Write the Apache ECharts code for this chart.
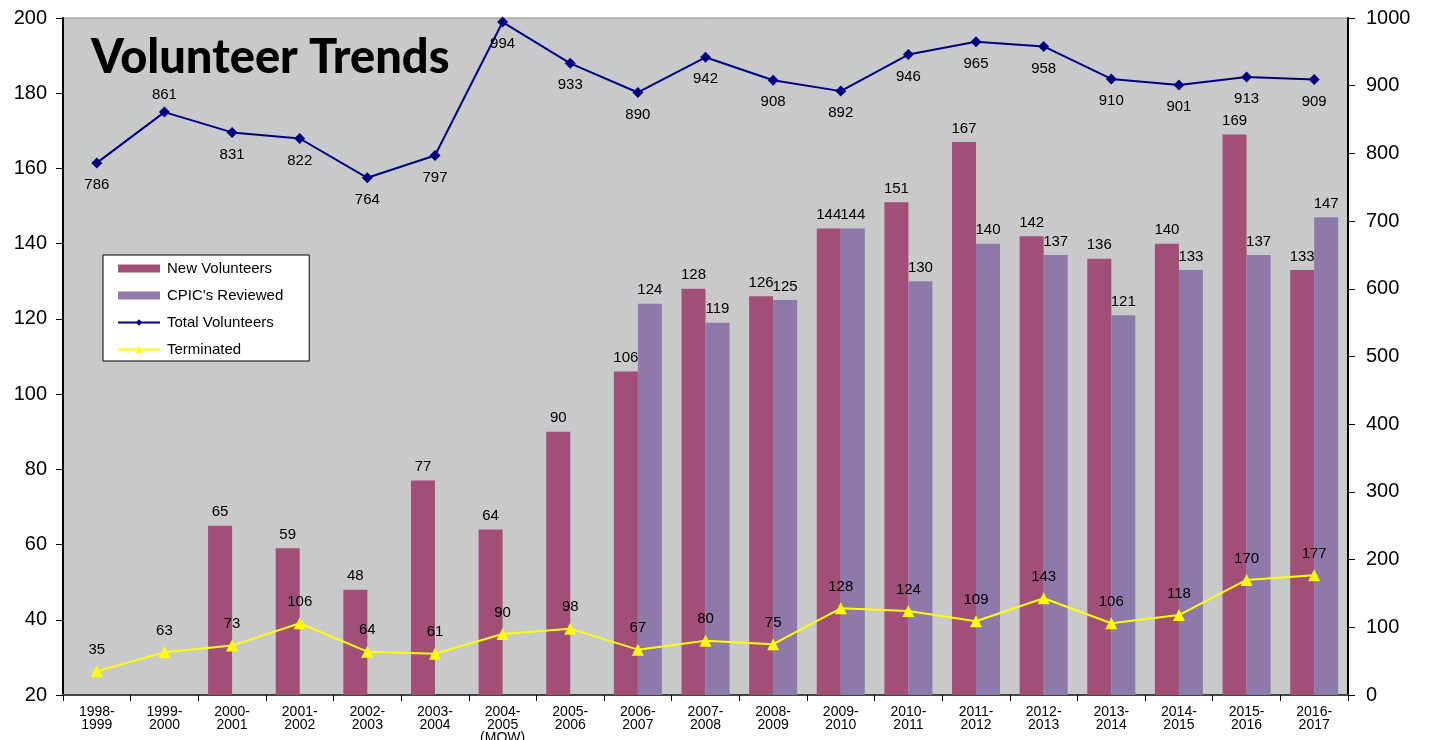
<!DOCTYPE html>
<html>
<head>
<meta charset="utf-8">
<script src="https://cdn.jsdelivr.net/npm/echarts@6/dist/echarts.min.js"></script>
<style>
html,body{margin:0;padding:0;background:#fff;}
#c{width:1432px;height:740px;}
</style>
</head>
<body>
<div id="c"></div>
<script>
const categories = ['1998-\n1999','1999-\n2000','2000-\n2001','2001-\n2002','2002-\n2003','2003-\n2004','2004-\n2005\n(MOW)','2005-\n2006','2006-\n2007','2007-\n2008','2008-\n2009','2009-\n2010','2010-\n2011','2011-\n2012','2012-\n2013','2013-\n2014','2014-\n2015','2015-\n2016','2016-\n2017'];
const newVolunteers = [null,null,65,59,48,77,64,90,106,128,126,144,151,167,142,136,140,169,133];
const cpicReviewed = [null,null,null,null,null,null,null,null,124,119,125,144,130,140,137,121,133,137,147];
const totalVolunteers = [786,861,831,822,764,797,994,933,890,942,908,892,946,965,958,910,901,913,909];
const terminated = [35,63,73,106,64,61,90,98,67,80,75,128,124,109,143,106,118,170,177];
const leftTicks = {min:20,max:200,interval:20};
const rightTicks = {min:0,max:1000,interval:100};

const FONT = '"Liberation Sans", Arial, sans-serif';
const chart = echarts.init(document.getElementById('c'));

const totalData = totalVolunteers.map((v,i)=> i===1 ? {value:v,label:{position:'top',distance:4}} : v);

chart.setOption({
  animation:false,
  title:{
    text:'Volunteer Trends',
    left:86, top:29,
    textStyle:{fontFamily:'Lato, sans-serif',fontWeight:900,fontSize:47,color:'#000'}
  },
  legend:{
    orient:'vertical',
    left:103, top:255,
    backgroundColor:'#fff',
    borderColor:'#000', borderWidth:1,
    padding:[6,26,4,14],
    itemWidth:42, itemHeight:8, itemGap:12,
    textStyle:{fontFamily:FONT,fontSize:15,color:'#000',padding:[0,0,0,2]},
    data:[
      {name:'New Volunteers',icon:'rect'},
      {name:"CPIC's Reviewed",icon:'rect'},
      {name:'Total Volunteers'},
      {name:'Terminated'}
    ]
  },
  grid:{
    left:63, right:84, top:18, bottom:45,
    outerBoundsMode:'none', containLabel:false,
    show:true, backgroundColor:'#C8C9CB', borderColor:'#8a8a8a', borderWidth:1
  },
  xAxis:{
    type:'category',
    data:categories,
    axisLine:{lineStyle:{color:'#444',width:2}},
    axisTick:{show:true,length:6,lineStyle:{color:'#000'}},
    axisLabel:{interval:0,fontFamily:FONT,fontSize:14,color:'#000',lineHeight:13,margin:11}
  },
  yAxis:[
    {
      type:'value', min:leftTicks.min, max:leftTicks.max, interval:leftTicks.interval,
      splitLine:{show:false},
      axisLine:{show:true,lineStyle:{color:'#000',width:2}},
      axisTick:{show:true,length:7,lineStyle:{color:'#000'}},
      axisLabel:{fontFamily:FONT,fontSize:20,color:'#000',margin:16}
    },
    {
      type:'value', min:rightTicks.min, max:rightTicks.max, interval:rightTicks.interval,
      splitLine:{show:false},
      axisLine:{show:true,lineStyle:{color:'#000',width:2}},
      axisTick:{show:true,length:7,lineStyle:{color:'#000'}},
      axisLabel:{fontFamily:FONT,fontSize:20,color:'#000',margin:18,formatter:v=>String(v)}
    }
  ],
  series:[
    {
      name:'New Volunteers', type:'bar', yAxisIndex:0,
      data:newVolunteers, barWidth:24, barGap:'0%',
      itemStyle:{color:'#A24F78'},
      label:{show:true,position:'top',distance:6,fontFamily:FONT,fontSize:15,color:'#000'}
    },
    {
      name:"CPIC's Reviewed", type:'bar', yAxisIndex:0,
      data:cpicReviewed, barWidth:24, barGap:'0%',
      itemStyle:{color:'#8E79AB'},
      label:{show:true,position:'top',distance:6,fontFamily:FONT,fontSize:15,color:'#000'}
    },
    {
      name:'Total Volunteers', type:'line', yAxisIndex:1,
      data:totalData, symbol:'diamond', symbolSize:11,
      lineStyle:{color:'#000080',width:2}, itemStyle:{color:'#000080'},
      label:{show:true,position:'bottom',distance:9,fontFamily:FONT,fontSize:15,color:'#000'},
      z:5
    },
    {
      name:'Terminated', type:'line', yAxisIndex:1,
      data:terminated, symbol:'triangle', symbolSize:12,
      lineStyle:{color:'#FFFF00',width:2}, itemStyle:{color:'#FFFF00'},
      label:{show:true,position:'top',distance:8,fontFamily:FONT,fontSize:15,color:'#000'},
      z:5
    }
  ]
});
</script>
</body>
</html>
